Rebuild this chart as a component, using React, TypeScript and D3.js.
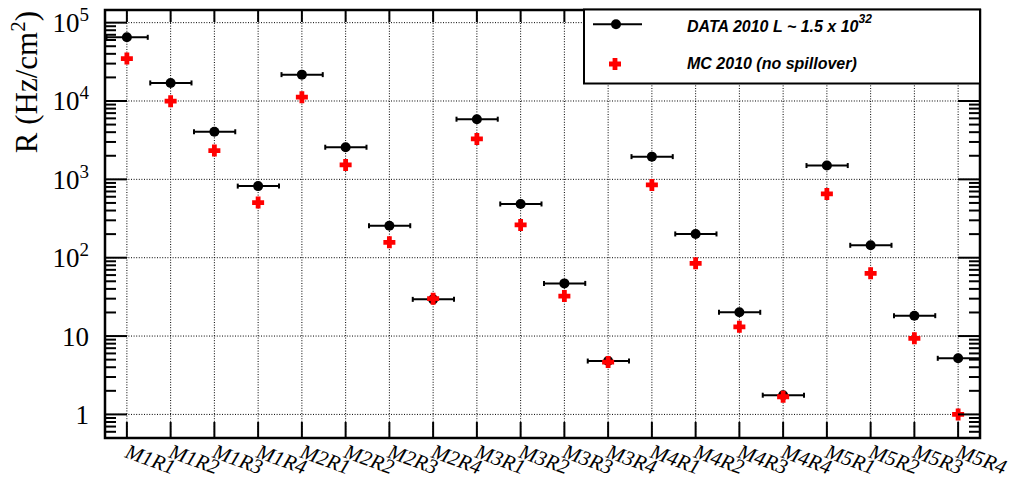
import React from "react";
import * as d3 from "d3";

const categories = ["M1R1","M1R2","M1R3","M1R4","M2R1","M2R2","M2R3","M2R4","M3R1","M3R2","M3R3","M3R4","M4R1","M4R2","M4R3","M4R4","M5R1","M5R2","M5R3","M5R4"];
const dataRates = [65000, 17000, 4050, 820, 21700, 2570, 256, 29.4, 5860, 485, 47, 4.8, 1950, 201, 20.1, 1.76, 1500, 144, 18.2, 5.2];
const mcRates = [34800, 9950, 2330, 505, 11200, 1530, 157, 30, 3280, 262, 32.4, 4.65, 848, 84.8, 13.1, 1.68, 651, 63.2, 9.35, 1.0];
const yTickLabels = [
  { v: 1e5, base: "10", exp: "5" },
  { v: 1e4, base: "10", exp: "4" },
  { v: 1e3, base: "10", exp: "3" },
  { v: 1e2, base: "10", exp: "2" },
  { v: 10, base: "10", exp: "" },
  { v: 1, base: "1", exp: "" },
];
const legendData = "DATA 2010 L ~ 1.5 x 10";
const legendDataExp = "32";
const legendMC = "MC 2010 (no spillover)";
const yTitle = "R (Hz/cm";

const W = 1014, H = 479;
const L = 105, R = 980, T = 10, B = 438;
const serif = "'Liberation Serif', 'Times New Roman', serif";
const sans = "'Liberation Sans', Arial, sans-serif";

function Cross({ x, y, s = 6, a = 2.4 }: { x: number; y: number; s?: number; a?: number }) {
  const p = [
    [-a, -s], [a, -s], [a, -a], [s, -a], [s, a], [a, a], [a, s], [-a, s], [-a, a], [-s, a], [-s, -a], [-a, -a],
  ].map(([px, py]) => `${x + px},${y + py}`).join(" ");
  return <polygon points={p} fill="#ff0000" />;
}

export default function App() {
  const x = d3.scaleLinear().domain([0, categories.length]).range([L, R]);
  const y = d3.scaleLog().domain([0.5, 1.45e5]).range([B, T]);

  const minor: number[] = [];
  for (let e = -1; e <= 5; e++) {
    for (let m = 2; m <= 9; m++) {
      const v = m * Math.pow(10, e);
      if (v > 0.5 && v < 1.45e5) minor.push(v);
    }
  }
  minor.push(0.5);
  const majors = [1, 10, 100, 1e3, 1e4, 1e5];

  return (
    <svg width={W} height={H} style={{ position: "absolute", left: 0, top: 0, background: "#fff" }}>
      <rect x={0} y={0} width={W} height={H} fill="#fff" />
      {/* grid */}
      <g stroke="#000" strokeWidth={1} strokeDasharray="1 1.6">
        {majors.map((v) => (
          <line key={"hg" + v} x1={L} x2={R} y1={y(v)} y2={y(v)} />
        ))}
        {categories.map((c, i) => (
          <line key={"vg" + c} x1={x(i + 0.5)} x2={x(i + 0.5)} y1={T} y2={B} />
        ))}
      </g>
      {/* data points */}
      <g>
        {dataRates.map((v, i) => {
          const cx = x(i + 0.5), cy = y(v);
          const x0 = x(i) + 1.5, x1 = Math.min(x(i + 1) - 1, R);
          return (
            <g key={"d" + i}>
              <line x1={x0} x2={x1} y1={cy} y2={cy} stroke="#000" strokeWidth={2} />
              <line x1={x0} x2={x0} y1={cy - 2.5} y2={cy + 2.5} stroke="#000" strokeWidth={2} />
              {i < categories.length - 1 && (
                <line x1={x1} x2={x1} y1={cy - 2.5} y2={cy + 2.5} stroke="#000" strokeWidth={2} />
              )}
              <circle cx={cx} cy={cy} r={5} fill="#000" />
            </g>
          );
        })}
        {mcRates.map((v, i) => (
          <Cross key={"m" + i} x={x(i + 0.5)} y={y(v)} />
        ))}
      </g>
      {/* ticks */}
      <g stroke="#000" strokeWidth={2}>
        {majors.map((v) => (
          <g key={"mt" + v}>
            <line x1={L} x2={L + 22} y1={y(v)} y2={y(v)} />
            <line x1={R} x2={R - 22} y1={y(v)} y2={y(v)} />
          </g>
        ))}
        {minor.map((v) => (
          <g key={"nt" + v}>
            <line x1={L} x2={L + 11} y1={y(v)} y2={y(v)} />
            <line x1={R} x2={R - 11} y1={y(v)} y2={y(v)} />
          </g>
        ))}
        {categories.map((c, i) => (
          <g key={"xt" + c}>
            <line x1={x(i + 0.5)} x2={x(i + 0.5)} y1={B} y2={B - 16} />
            <line x1={x(i + 0.5)} x2={x(i + 0.5)} y1={T} y2={T + 12} />
          </g>
        ))}
      </g>
      {/* frame */}
      <rect x={L} y={T} width={R - L} height={B - T} fill="none" stroke="#000" strokeWidth={2.5} />
      {/* y tick labels */}
      <g fontFamily={serif} fill="#000">
        {yTickLabels.map((t) => (
          <text key={"yl" + t.v} x={89} y={y(t.v) + 9.5} fontSize={27} textAnchor="end">
            {t.base}
            {t.exp && (
              <tspan fontSize={19} dy={-11}>{t.exp}</tspan>
            )}
          </text>
        ))}
      </g>
      {/* x tick labels */}
      <g fontFamily={serif} fontStyle="italic" fill="#000">
        {categories.map((c, i) => (
          <text key={"xl" + c} transform={`translate(${x(i + 0.5) - 3},${457}) rotate(20)`} fontSize={21}>
            {c}
          </text>
        ))}
      </g>
      {/* y title */}
      <text transform={`translate(37,${T + 1}) rotate(-90)`} textAnchor="end" fontFamily={serif} fontSize={31} fill="#000">
        {yTitle}
        <tspan fontSize={21} dy={-12}>2</tspan>
        <tspan dy={12}>)</tspan>
      </text>
      {/* legend */}
      <g>
        <rect x={584} y={9.5} width={R - 584} height={74} fill="#fff" stroke="#000" strokeWidth={2} />
        <line x1={593} x2={642} y1={24.3} y2={24.3} stroke="#000" strokeWidth={2} />
        <circle cx={616} cy={24.3} r={5} fill="#000" />
        <Cross x={615} y={64} />
        <g fontFamily={sans} fontWeight="bold" fontStyle="italic" fill="#000" fontSize={16}>
          <text x={687} y={31.5}>
            {legendData}
            <tspan fontSize={12} dy={-9}>{legendDataExp}</tspan>
          </text>
          <text x={687} y={68.5}>{legendMC}</text>
        </g>
      </g>
    </svg>
  );
}
